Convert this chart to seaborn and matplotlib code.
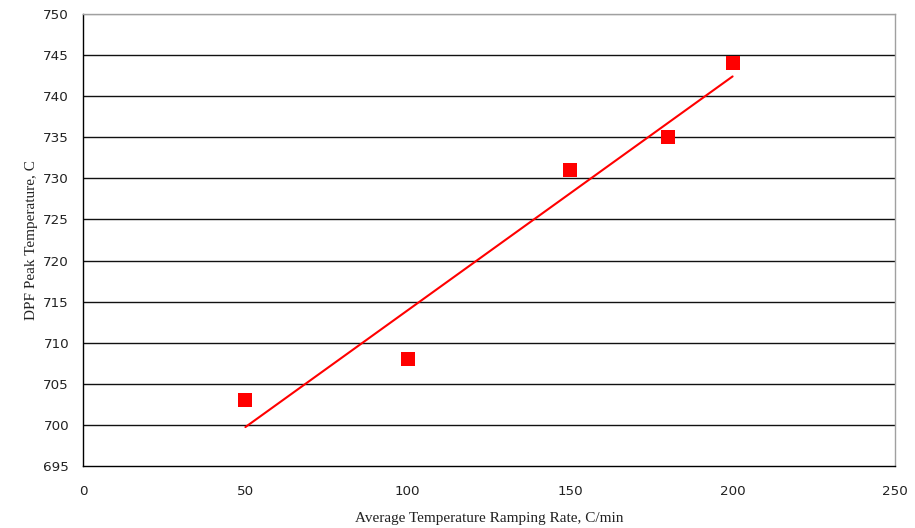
import numpy as np
import pandas as pd
import matplotlib
matplotlib.use("Agg")
import matplotlib.pyplot as plt
import seaborn as sns

ramp_rate = [50, 100, 150, 180, 200]
peak_temp = [703, 708, 731, 735, 744]
x_ticks = [0, 50, 100, 150, 200, 250]
y_ticks = [695, 700, 705, 710, 715, 720, 725, 730, 735, 740, 745, 750]

df = pd.DataFrame({"rate": ramp_rate, "temp": peak_temp})

sns.set_style("white")
plt.rcParams["font.family"] = ["DejaVu Sans"]

fig = plt.figure(figsize=(9.15, 5.28), dpi=100)
ax = fig.add_axes([83/915, 1-466/528, (895-83)/915, (466-14)/528])

for yv in y_ticks[1:-1]:
    ax.axhline(yv, color="#111111", lw=1.0, zorder=1)
ax.axhline(750, color="#b0b0b0", lw=1.0, zorder=1)

sns.scatterplot(data=df, x="rate", y="temp", marker="s", s=115, color="#ff0000",
                edgecolor="#ff0000", linewidth=0, ax=ax, zorder=3)

coef = np.polyfit(df["rate"], df["temp"], 1)
xl = np.array([min(ramp_rate), max(ramp_rate)])
ax.plot(xl, np.polyval(coef, xl), color="#ff0000", lw=1.5, zorder=2)

ax.set_xlim(0, 250)
ax.set_ylim(695, 750)
ax.set_xticks(x_ticks)
ax.set_yticks(y_ticks)
ax.tick_params(axis="both", direction="out", length=4, width=1, color="black",
               labelsize=9.7, labelcolor="#222222", pad=6)
ax.tick_params(axis="x", pad=10)

for side in ["left", "bottom"]:
    ax.spines[side].set_color("black")
    ax.spines[side].set_linewidth(1.0)
for side in ["top", "right"]:
    ax.spines[side].set_color("#a0a0a0")
    ax.spines[side].set_linewidth(1.0)

ax.set_xlabel("Average Temperature Ramping Rate, C/min", family=["Liberation Serif"],
              fontsize=11, labelpad=10, color="#222222")
ax.set_ylabel("DPF Peak Temperature, C", family=["Liberation Serif"],
              fontsize=11, labelpad=4, color="#222222")

fig.savefig("out.png", dpi=100)
